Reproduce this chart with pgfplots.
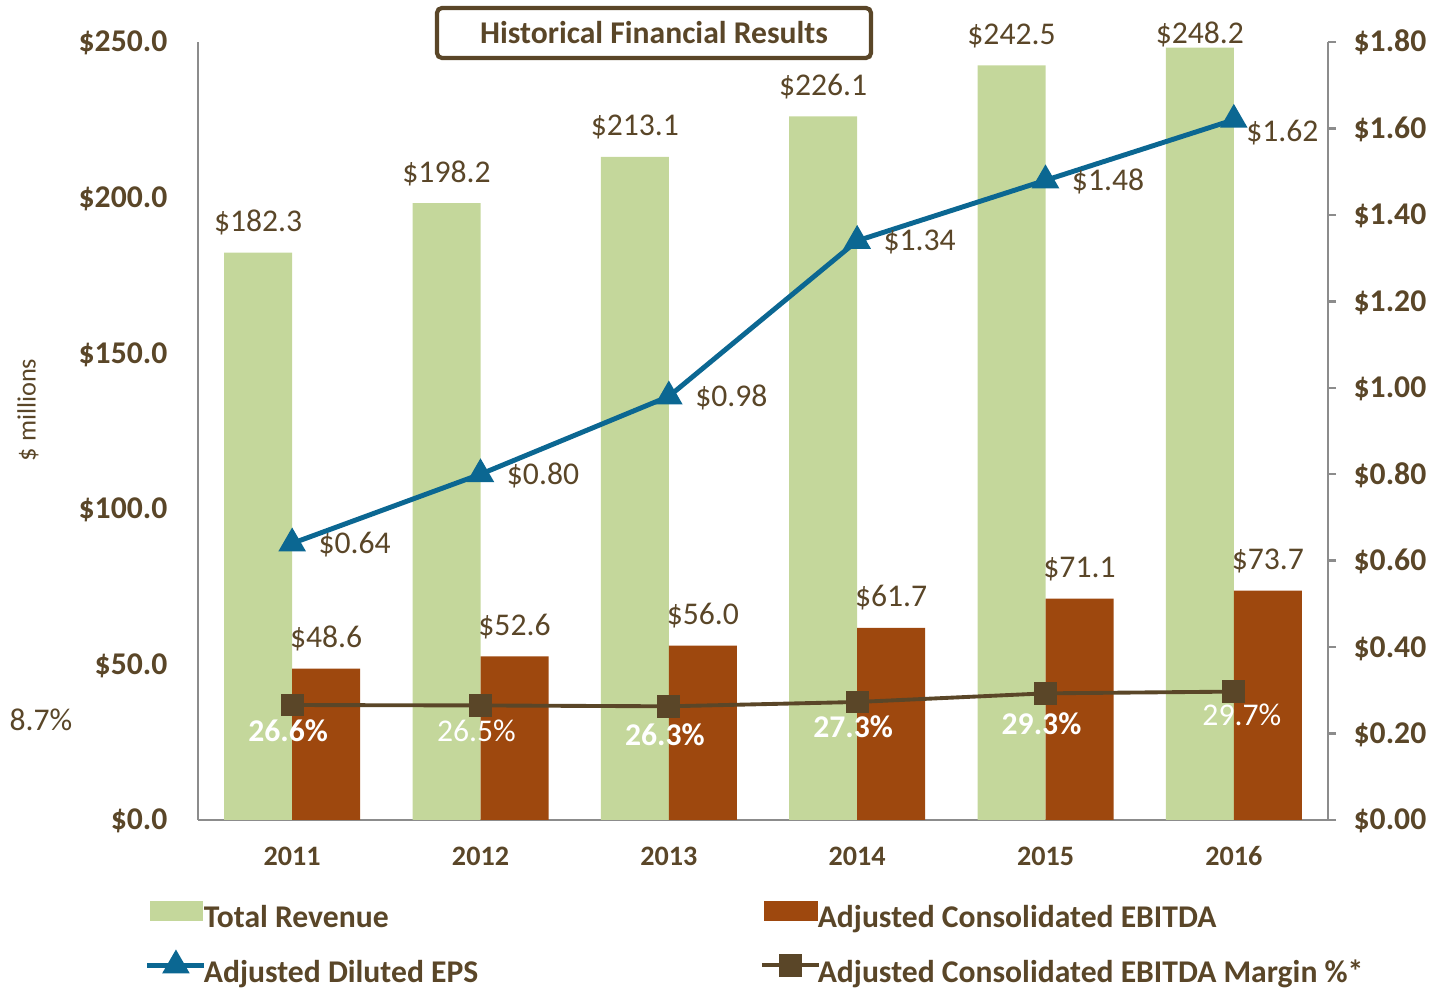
\documentclass[border=0pt]{standalone}
\usepackage{pgfplots}
\pgfplotsset{compat=1.18}
\usepackage{fontspec}
\setmainfont{Carlito}
\definecolor{cgreen}{HTML}{C4D79B}
\definecolor{corange}{HTML}{9E480E}
\definecolor{cblue}{HTML}{0B6792}
\definecolor{cbrown}{HTML}{5A4628}
\definecolor{caxis}{HTML}{8C8C8C}
\pgfplotsset{legend image code/.code={\draw[mark repeat=2,mark phase=2,#1] plot coordinates {(-0.3mm,0mm)(2.55mm,0mm)(5.4mm,0mm)};}}
\begin{document}
\begin{tikzpicture}
\path[use as bounding box] (0mm,0mm) rectangle (143.7mm,98.8mm);
\pgfplotsset{
  base/.style={
    at={(19.8mm,16.8mm)}, anchor=south west,
    scale only axis, width=113mm, height=77.8mm,
    xmin=-0.5, xmax=5.5,
    /pgf/number format/assume math mode=true,
    font=\fontsize{9}{10.8}\selectfont,
    axis line style={caxis, line width=0.7pt},
    clip=false,
  }
}
\begin{axis}[base,
  ymin=0, ymax=250, ytick={0,50,100,150,200,250},
  axis x line*=bottom, axis y line*=left,
  xtick={0,1,2,3,4,5}, xticklabels={2011,2012,2013,2014,2015,2016},
  xticklabel style={font=\fontsize{8}{9.6}\selectfont\bfseries, anchor=base, inner sep=0pt, yshift=-4.6mm, text=cbrown},
  major tick length=0pt,
  yticklabel={\textbf{\$\pgfmathprintnumber[fixed,fixed zerofill,precision=1]{\tick}}},
  yticklabel style={anchor=base east, inner sep=0pt, xshift=-3mm, yshift=-1mm, text=cbrown},
  ybar, bar width=6.8mm,
  point meta=explicit symbolic, nodes near coords,
  every node near coord/.append style={anchor=base, yshift=2.1mm, text=cbrown, inner sep=0pt},
]
\addplot[fill=cgreen, draw=none, bar shift=-3.4mm] coordinates {(0,182.3)[\$182.3] (1,198.2)[\$198.2] (2,213.1)[\$213.1] (3,226.1)[\$226.1] (4,242.5)[\$242.5] (5,248.2)[\raisebox{-1.7mm}{\$248.2}]};
\addplot[fill=corange, draw=none, bar shift=3.4mm] coordinates {(0,48.6)[\$48.6] (1,52.6)[\$52.6] (2,56.0)[\$56.0] (3,61.7)[\$61.7] (4,71.1)[\$71.1] (5,73.7)[\$73.7]};
\end{axis}
\begin{axis}[base,
  ymin=0, ymax=1.8, ytick={0,0.2,0.4,0.6,0.8,1.0,1.2,1.4,1.6,1.8},
  axis y line*=right, axis x line=none, xtick=\empty,
  tick align=outside, major tick length=0.8mm, tick style={caxis, line width=0.7pt},
  yticklabel={\textbf{\$\pgfmathprintnumber[fixed,fixed zerofill,precision=2]{\tick}}},
  yticklabel style={anchor=base west, inner sep=0pt, xshift=1.7mm, yshift=-1mm, text=cbrown},
  legend columns=2,
  legend cell align=left,
  legend style={at={(-0.0469,-0.0887)}, anchor=north west, draw=none, fill=none,
    inner sep=0pt, outer sep=0pt, column sep=0pt, row sep=1.0mm,
    font=\fontsize{9}{10.8}\selectfont\bfseries, text=cbrown,
    nodes={inner sep=0pt, anchor=west}},
]
\addlegendimage{legend image code/.code={\fill[cgreen] (0mm,-0.9mm) rectangle (5.2mm,0.9mm);}}
\addlegendentry{\hspace*{-0.3mm}\makebox[55.6mm][l]{\rule[-1.5mm]{0pt}{5.4mm}Total Revenue}}
\addlegendimage{legend image code/.code={\fill[corange] (0mm,-0.9mm) rectangle (5.2mm,0.9mm);}}
\addlegendentry{\hspace*{-0.3mm}\rule[-1.5mm]{0pt}{5.4mm}Adjusted Consolidated EBITDA}
\addplot[cblue, line width=1.4pt, mark=triangle*, mark size=1.1mm, mark options={solid},
  point meta=explicit symbolic, nodes near coords,
  every node near coord/.style={anchor=base west, xshift=2.4mm, yshift=-1mm, text=cbrown, inner sep=0pt}]
  coordinates {(0,0.64)[\$0.64] (1,0.80)[\$0.80] (2,0.98)[\$0.98] (3,1.34)[\$1.34] (4,1.48)[\$1.48] (5,1.62)[\hspace*{-1.4mm}\raisebox{-1.2mm}{\$1.62}]};
\addlegendentry{\hspace*{-0.3mm}\makebox[55.6mm][l]{\rule[-1.5mm]{0pt}{5.4mm}Adjusted Diluted EPS}}
\addplot[cbrown, line width=1.1pt, mark=square*, mark size=0.95mm, mark options={solid},
  point meta=explicit symbolic, nodes near coords,
  every node near coord/.style={anchor=base, xshift=-0.4mm, yshift=-3.6mm, text=white, inner sep=0pt}]
  coordinates {(0,0.266)[\textbf{26.6\%}] (1,0.265)[26.5\%] (2,0.263)[\raisebox{-0.3mm}{\textbf{26.3\%}}] (3,0.273)[\textbf{27.3\%}] (4,0.293)[\raisebox{-0.5mm}{\textbf{29.3\%}}] (5,0.297)[\hspace*{2.4mm}\raisebox{0.2mm}{29.7\%}]};
\addlegendentry{\hspace*{-0.3mm}\rule[-1.5mm]{0pt}{5.4mm}Adjusted Consolidated EBITDA Margin \%*}
\end{axis}
\node[rotate=90, font=\fontsize{7.5}{9}\selectfont, text=cbrown] at (2.8mm,57.8mm) {\$ millions};
\node[font=\fontsize{9}{10.8}\selectfont, text=cbrown] at (4.1mm,26.8mm) {8.7\%};
\node[draw=cbrown, line width=1.2pt, rounded corners=0.5mm, minimum width=43.4mm, minimum height=5mm, inner sep=0pt,
  font=\fontsize{9}{10.8}\selectfont\bfseries, text=cbrown] at (65.4mm,95.5mm) {Historical Financial Results};
\end{tikzpicture}
\end{document}
